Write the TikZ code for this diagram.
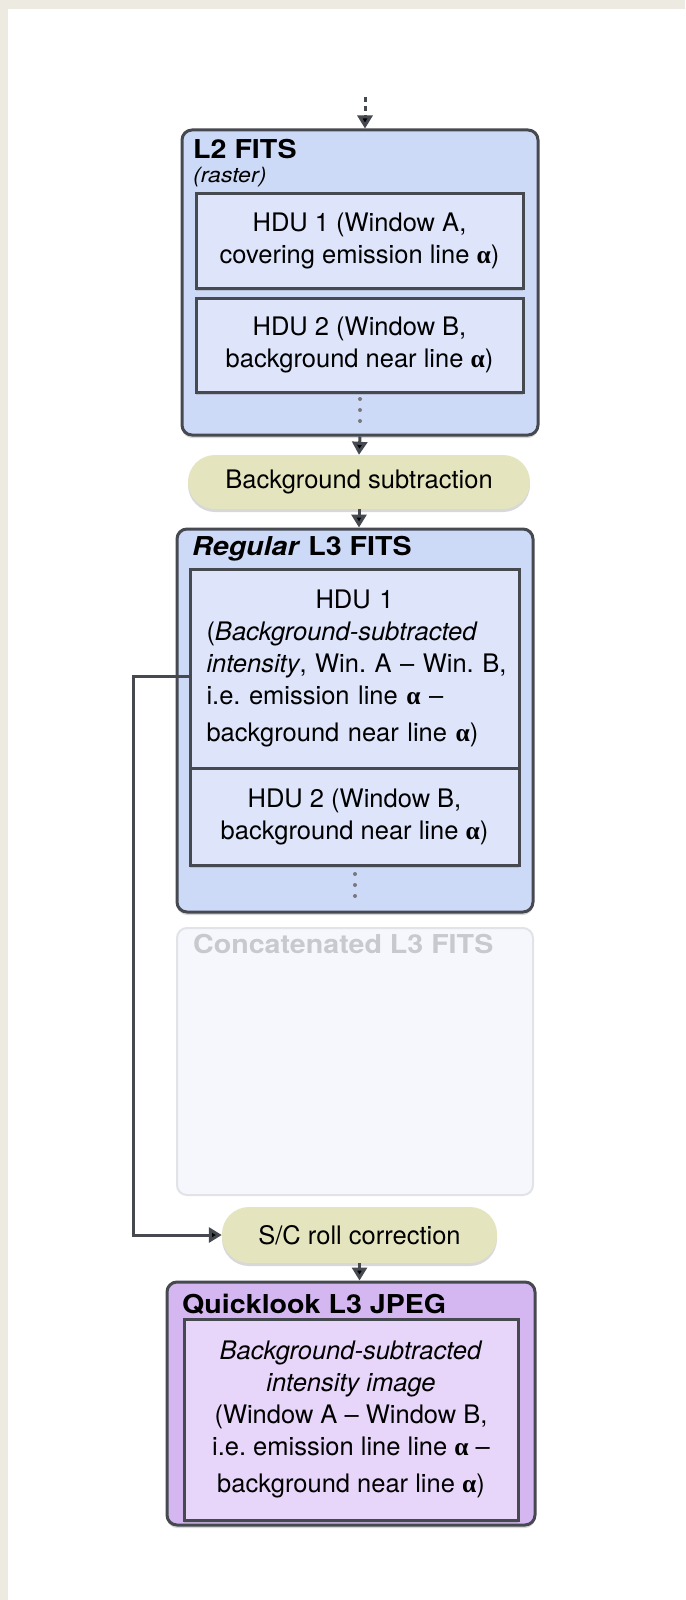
\documentclass[tikz,border=0pt]{standalone}
\usepackage{fontspec}
\setmainfont{TeX Gyre Heros}
\newfontfamily\titlefont[FakeStretch=1.1]{TeX Gyre Heros}
\newfontfamily\greekfont{Liberation Serif}
\usetikzlibrary{arrows.meta,shadows}
\definecolor{frame}{RGB}{237,235,225}
\definecolor{fitsblue}{RGB}{205,218,247}
\definecolor{hdublue}{RGB}{222,229,251}
\definecolor{procyellow}{RGB}{228,229,190}
\definecolor{jpgpurple}{RGB}{212,183,241}
\definecolor{jpginner}{RGB}{232,214,250}
\definecolor{edgegray}{RGB}{70,73,80}
\definecolor{fadeedge}{RGB}{226,227,230}
\definecolor{fadefill}{RGB}{245,247,252}
\definecolor{fadetext}{RGB}{200,201,206}
\definecolor{dotgray}{RGB}{120,120,125}
\newcommand{\alphab}{{\greekfont\bfseries\upshape α}}
\tikzset{
  shade/.style={drop shadow={shadow xshift=0pt,shadow yshift=-3pt,opacity=.3}},
  fitsbox/.style={draw=edgegray,line width=3pt,rounded corners=10pt,fill=fitsblue,shade},
  hdubox/.style={draw=edgegray,line width=3pt,fill=hdublue,minimum width=329,align=center,
    font=\fontsize{25.5}{32}\selectfont,shade},
  procbox/.style={fill=procyellow,rounded corners=27pt,minimum height=54,
    font=\fontsize{25.5}{30}\selectfont,shade},
  boxtitle/.style={anchor=base west,inner sep=0pt,font=\titlefont\fontsize{26}{30}\selectfont\bfseries},
  flow/.style={draw=edgegray,line width=3pt,-{Triangle[width=15pt,length=13pt,fill=black]}}
}
\begin{document}
\begin{tikzpicture}[x=1pt,y=-1pt]
  \useasboundingbox (0,0) rectangle (685,1600);
  \fill[frame] (0,0) rectangle (685,1600);
  \fill[white] (8,9) rectangle (685,1600);

  \node[fitsbox,minimum width=356,minimum height=305] (L2) at (360,282.5) {};
  \node[boxtitle] (L2title) at (193,158) {L2 FITS};
  \node[anchor=base west,inner sep=0pt,font=\titlefont\fontsize{21}{24}\selectfont\itshape] (L2sub) at (193,182) {(raster)};
  \node[hdubox,minimum width=327,minimum height=95] (L2hduA) at (359.5,240.5) {HDU 1 (Window A,\\covering emission line \alphab)};
  \node[hdubox,minimum width=327,minimum height=94] (L2hduB) at (359.5,345) {HDU 2 (Window B,\\background near line \alphab)};
  \foreach \y in {399,410,421}
    \fill[dotgray] (360,\y) circle (2);

  \node[procbox,minimum width=342] (bgsub) at (359,482) {Background subtraction};

  \node[fitsbox,minimum width=356,minimum height=383] (R) at (355,720.5) {};
  \node[boxtitle] (Rtitle) at (192,555) {\textit{Regular} L3 FITS};
  \node[hdubox,minimum height=199,align=left,text width=296] (RhduA) at (354.5,668.5)
    {\makebox[296pt]{HDU 1}\\(\textit{Background-subtracted}\\\mbox{\textit{intensity}, Win.\ A – Win.\ B,}\\i.e.\ emission line \alphab\ –\\[5pt]background near line \alphab)};
  \node[hdubox,minimum height=97] (RhduB) at (354.5,816.5) {HDU 2 (Window B,\\background near line \alphab)};
  \foreach \y in {874,885,896}
    \fill[dotgray] (355,\y) circle (2);

  \node[draw=fadeedge,line width=2pt,rounded corners=10pt,fill=fadefill,minimum width=356,minimum height=267] (C) at (355,1061.5) {};
  \node[boxtitle,text=fadetext] (Ctitle) at (193,953) {Concatenated L3 FITS};

  \node[procbox,minimum width=275,minimum height=56] (roll) at (359.5,1235) {S/C roll correction};

  \node[fitsbox,fill=jpgpurple,minimum width=368,minimum height=243] (Q) at (351,1403.5) {};
  \node[boxtitle] (Qtitle) at (182,1313) {Quicklook L3 JPEG};
  \node[hdubox,fill=jpginner,minimum width=334,minimum height=201] (Qimg) at (351,1419.5)
    {\textit{Background-subtracted}\\\textit{intensity image}\\(Window A – Window B,\\i.e.\ emission line line \alphab\ –\\[5pt]background near line \alphab)};

  \coordinate (src) at (365,97);
  \coordinate (bend) at (133,676);
  \draw[flow,dash pattern=on 5pt off 4pt] (src) -- (src |- L2.north);
  \draw[flow] (L2.south) -- (bgsub.north);
  \draw[flow] (bgsub.south) -- (bgsub.south |- R.north);
  \draw[flow] (roll.south) -- (roll.south |- Q.north);
  \draw[flow] ([yshift=-7.5pt]RhduA.west) -- (bend) |- (roll.west);
\end{tikzpicture}
\end{document}
